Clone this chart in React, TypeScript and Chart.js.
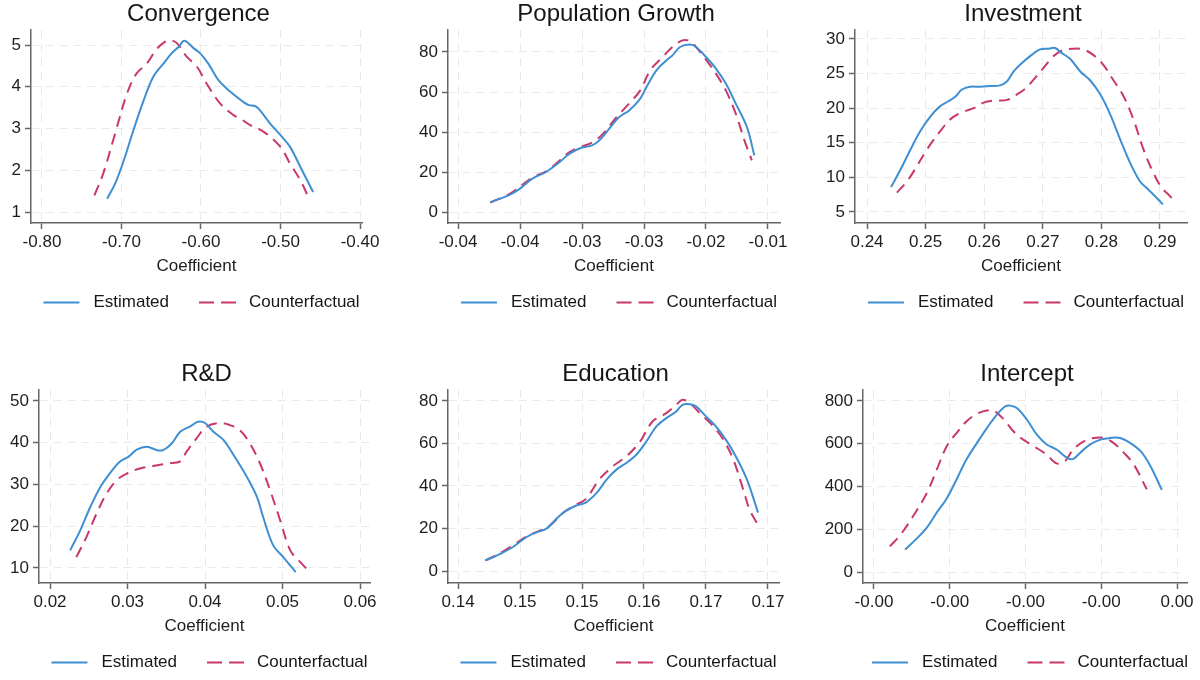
import React, { useEffect, useRef } from "react";
import { Chart, registerables } from "chart.js";

Chart.register(...registerables);

const FONT = "'Liberation Sans', Arial, Helvetica, sans-serif";
const EST_COLOR = "#3f8fd2";
const CF_COLOR = "#c8386c";
const SERIES_LABELS = ["Estimated", "Counterfactual"];
const X_TITLE = "Coefficient";

// ---------- Convergence ----------
const convEstX = [-0.718, -0.708, -0.697, -0.685, -0.672, -0.66, -0.647, -0.637, -0.628, -0.622, -0.618, -0.609, -0.601, -0.591, -0.578, -0.563, -0.547, -0.54, -0.532, -0.526, -0.513, -0.5, -0.488, -0.475, -0.459];
const convEstY = [1.32, 1.68, 2.24, 2.96, 3.68, 4.24, 4.56, 4.8, 4.96, 5.1, 5.08, 4.92, 4.8, 4.56, 4.16, 3.88, 3.64, 3.56, 3.54, 3.44, 3.12, 2.84, 2.56, 2.08, 1.48];
const convCfX = [-0.734, -0.723, -0.708, -0.693, -0.681, -0.668, -0.656, -0.645, -0.639, -0.63, -0.618, -0.605, -0.593, -0.576, -0.559, -0.551, -0.538, -0.521, -0.5, -0.488, -0.475, -0.465];
const convCfY = [1.4, 1.92, 2.88, 3.84, 4.32, 4.56, 4.9, 5.08, 5.12, 5.04, 4.72, 4.48, 4.08, 3.6, 3.32, 3.24, 3.08, 2.92, 2.56, 2.16, 1.76, 1.36];
const convXTicks = [-0.8, -0.7, -0.6, -0.5, -0.4];
const convXLabels = ["-0.80", "-0.70", "-0.60", "-0.50", "-0.40"];
const convYTicks = [1, 2, 3, 4, 5];

// ---------- Population Growth ----------
const popEstX = [-0.0374, -0.0366, -0.0358, -0.035, -0.034, -0.0329, -0.0318, -0.031, -0.0301, -0.0292, -0.0286, -0.0278, -0.027, -0.0262, -0.0253, -0.0248, -0.024, -0.0232, -0.0227, -0.0221, -0.0213, -0.0208, -0.02, -0.0192, -0.0184, -0.0176, -0.0167, -0.0161];
const popEstY = [5, 6.7, 8.7, 11.7, 16.7, 20, 25, 29.2, 32, 33.3, 35.8, 41.7, 47.5, 50.8, 56.7, 62.5, 70.8, 75.8, 78.3, 82.5, 83.7, 82.5, 77.5, 71.7, 64.2, 54.2, 42.5, 28.3];
const popCfX = [-0.0374, -0.0358, -0.034, -0.0329, -0.0318, -0.031, -0.0301, -0.0291, -0.0283, -0.0272, -0.0262, -0.0253, -0.0245, -0.0235, -0.0227, -0.0219, -0.0213, -0.0208, -0.02, -0.0192, -0.0184, -0.0176, -0.0169, -0.0163];
const popCfY = [4.7, 9.2, 17.2, 20.3, 25.8, 30, 32.5, 35, 39.2, 47.5, 54.2, 60.8, 70.8, 77.5, 82.5, 85.8, 85.5, 82.5, 76.2, 69.2, 60.8, 49.2, 35.8, 25.8];
const popXTicks = [-0.04, -0.035, -0.03, -0.025, -0.02, -0.015];
const popXLabels = ["-0.04", "-0.04", "-0.03", "-0.03", "-0.02", "-0.01"];
const popYTicks = [0, 20, 40, 60, 80];

// ---------- Investment ----------
const invEstX = [0.2441, 0.2457, 0.2474, 0.2491, 0.2508, 0.2525, 0.2539, 0.2551, 0.2562, 0.2576, 0.2593, 0.261, 0.2627, 0.2639, 0.265, 0.2664, 0.2681, 0.2695, 0.271, 0.2721, 0.2732, 0.2747, 0.2764, 0.2781, 0.2798, 0.2815, 0.2832, 0.2849, 0.2866, 0.2877, 0.2889, 0.2905];
const invEstY = [8.6, 11.1, 14.0, 16.7, 18.8, 20.3, 21.0, 21.7, 22.7, 23.1, 23.1, 23.2, 23.3, 23.9, 25.3, 26.5, 27.7, 28.5, 28.6, 28.7, 28.0, 27.1, 25.3, 24.0, 22.0, 19.1, 15.5, 12.1, 9.4, 8.5, 7.5, 6.1];
const invCfX = [0.2451, 0.2468, 0.2485, 0.2502, 0.2525, 0.2545, 0.2565, 0.2582, 0.2599, 0.2616, 0.2639, 0.2656, 0.267, 0.2684, 0.2701, 0.2718, 0.2735, 0.2752, 0.2769, 0.2786, 0.2803, 0.282, 0.2838, 0.2855, 0.2872, 0.2889, 0.2903, 0.2917, 0.2928];
const invCfY = [7.8, 9.4, 11.6, 14.0, 16.7, 18.6, 19.5, 20.0, 20.8, 21.1, 21.2, 22.0, 22.8, 24.1, 25.8, 27.5, 28.4, 28.6, 28.5, 27.7, 26.3, 24.1, 21.7, 18.3, 14.0, 10.6, 8.5, 7.3, 6.3];
const invXTicks = [0.24, 0.25, 0.26, 0.27, 0.28, 0.29];
const invXLabels = ["0.24", "0.25", "0.26", "0.27", "0.28", "0.29"];
const invYTicks = [5, 10, 15, 20, 25, 30];

// ---------- R&D ----------
const rdEstX = [0.0226, 0.0239, 0.0252, 0.0265, 0.0277, 0.029, 0.0301, 0.0312, 0.0325, 0.0338, 0.0346, 0.0357, 0.0368, 0.0381, 0.0391, 0.04, 0.0411, 0.0424, 0.0437, 0.0454, 0.0467, 0.0475, 0.0488, 0.0501, 0.0517];
const rdEstY = [14.2, 19.0, 24.6, 29.4, 32.6, 35.4, 36.6, 38.3, 39.0, 38.2, 38.2, 39.8, 42.6, 43.9, 45.0, 44.7, 42.6, 40.6, 37.0, 31.8, 27.0, 22.2, 15.4, 12.6, 9.0];
const rdCfX = [0.0234, 0.0247, 0.026, 0.0273, 0.0286, 0.0299, 0.0316, 0.0333, 0.0351, 0.0368, 0.0376, 0.0389, 0.0402, 0.0419, 0.0432, 0.0445, 0.0458, 0.0471, 0.0484, 0.0497, 0.051, 0.0523, 0.0533];
const rdCfY = [12.6, 17.4, 23.0, 27.8, 31.0, 32.6, 33.8, 34.4, 35.0, 35.5, 37.8, 41.0, 43.8, 44.7, 44.2, 43.0, 39.8, 35.0, 28.6, 21.4, 14.2, 11.4, 9.4];
const rdXTicks = [0.02, 0.03, 0.04, 0.05, 0.06];
const rdXLabels = ["0.02", "0.03", "0.04", "0.05", "0.06"];
const rdYTicks = [10, 20, 30, 40, 50];

// ---------- Education ----------
const eduEstX = [0.1472, 0.1484, 0.1494, 0.1505, 0.1513, 0.1521, 0.1529, 0.1537, 0.1545, 0.1553, 0.1562, 0.157, 0.1578, 0.1586, 0.1594, 0.1602, 0.161, 0.1618, 0.1626, 0.1631, 0.1637, 0.1642, 0.165, 0.1658, 0.1666, 0.1674, 0.1683, 0.1692];
const eduEstY = [5.0, 8.1, 11.2, 15.9, 18.2, 19.8, 24.4, 28.3, 30.7, 32.2, 36.9, 43.1, 47.8, 50.9, 54.8, 61.0, 68.0, 71.9, 75.0, 78.1, 78.4, 77.4, 72.7, 68.0, 61.8, 54.0, 43.1, 27.5];
const eduCfX = [0.1472, 0.1484, 0.1494, 0.1505, 0.1516, 0.1524, 0.1535, 0.1545, 0.1553, 0.1564, 0.1575, 0.1586, 0.1597, 0.1607, 0.1618, 0.1626, 0.1631, 0.1637, 0.1645, 0.1656, 0.1664, 0.1672, 0.168, 0.1685, 0.1691];
const eduCfY = [5.0, 8.4, 12.0, 16.2, 19.0, 21.3, 27.5, 31.1, 33.8, 43.1, 49.3, 54.0, 61.0, 70.4, 74.2, 78.1, 80.5, 78.9, 74.2, 68.0, 61.8, 52.5, 38.4, 29.1, 22.6];
const eduXTicks = [0.145, 0.15, 0.155, 0.16, 0.165, 0.17];
const eduXLabels = ["0.14", "0.15", "0.15", "0.16", "0.17", "0.17"];
const eduYTicks = [0, 20, 40, 60, 80];

// ---------- Intercept ----------
const intEstX = [-0.00359, -0.00344, -0.0033, -0.00317, -0.00304, -0.00291, -0.00278, -0.00264, -0.00251, -0.00238, -0.00227, -0.0022, -0.00211, -0.00198, -0.00185, -0.00172, -0.00159, -0.00145, -0.00137, -0.00128, -0.00115, -0.00101, -0.00088, -0.00075, -0.00062, -0.00048, -0.00035, -0.0002];
const intEstY = [105, 155, 209, 279, 344, 433, 526, 604, 673, 735, 774, 778, 766, 712, 642, 596, 573, 534, 529, 557, 596, 619, 627, 627, 604, 565, 495, 384];
const intCfX = [-0.00379, -0.00366, -0.00348, -0.0033, -0.00317, -0.00304, -0.00291, -0.00278, -0.00264, -0.00251, -0.00242, -0.00229, -0.00216, -0.00203, -0.00189, -0.00172, -0.00159, -0.00148, -0.00137, -0.00123, -0.0011, -0.00097, -0.00084, -0.0007, -0.00057, -0.0004];
const intCfY = [121, 170, 263, 371, 480, 588, 650, 704, 740, 755, 755, 715, 658, 619, 588, 549, 508, 518, 573, 611, 627, 627, 604, 557, 503, 387];
const intXTicks = [-0.004, -0.003, -0.002, -0.001, 0];
const intXLabels = ["-0.00", "-0.00", "-0.00", "-0.00", "0.00"];
const intYTicks = [0, 200, 400, 600, 800];

type Panel = {
  title: string;
  estX: number[]; estY: number[]; cfX: number[]; cfY: number[];
  xTicks: number[]; xLabels: string[]; yTicks: number[];
  xMin: number; xMax: number; yMin: number; yMax: number;
  left: number; top: number; yAxisWidth: number; padRight: number;
};

const PANELS: Panel[] = [
  { title: "Convergence", estX: convEstX, estY: convEstY, cfX: convCfX, cfY: convCfY, xTicks: convXTicks, xLabels: convXLabels, yTicks: convYTicks,
    xMin: -0.8138, xMax: -0.3975, yMin: 0.737, yMax: 5.36, left: 0, top: 0, yAxisWidth: 31, padRight: 38 },
  { title: "Population Growth", estX: popEstX, estY: popEstY, cfX: popCfX, cfY: popCfY, xTicks: popXTicks, xLabels: popXLabels, yTicks: popYTicks,
    xMin: -0.04081, xMax: -0.01403, yMin: -5.5, yMax: 91, left: 400, top: 0, yAxisWidth: 48, padRight: 20 },
  { title: "Investment", estX: invEstX, estY: invEstY, cfX: invCfX, cfY: invCfY, xTicks: invXTicks, xLabels: invXLabels, yTicks: invYTicks,
    xMin: 0.23795, xMax: 0.29461, yMin: 3.41, yMax: 31.3, left: 800, top: 0, yAxisWidth: 55, padRight: 13 },
  { title: "R&D", estX: rdEstX, estY: rdEstY, cfX: rdCfX, cfY: rdCfY, xTicks: rdXTicks, xLabels: rdXLabels, yTicks: rdYTicks,
    xMin: 0.01858, xMax: 0.06129, yMin: 6.4, yMax: 52.6, left: 0, top: 360, yAxisWidth: 39, padRight: 30 },
  { title: "Education", estX: eduEstX, estY: eduEstY, cfX: eduCfX, cfY: eduCfY, xTicks: eduXTicks, xLabels: eduXLabels, yTicks: eduYTicks,
    xMin: 0.14419, xMax: 0.17089, yMin: -5.6, yMax: 85.1, left: 400, top: 360, yAxisWidth: 48, padRight: 21 },
  { title: "Intercept", estX: intEstX, estY: intEstY, cfX: intCfX, cfY: intCfY, xTicks: intXTicks, xLabels: intXLabels, yTicks: intYTicks,
    xMin: -0.004145, xMax: 0.000132, yMin: -51, yMax: 851, left: 800, top: 360, yAxisWidth: 63, padRight: 13 },
];

const PANEL_W = 400;
const PANEL_H = 320;

const decorPlugin = {
  id: "panelDecor",
  afterDraw(chart: any, _args: any, opts: any) {
    const { ctx, chartArea } = chart;
    const cx = (chartArea.left + chartArea.right) / 2;
    ctx.save();
    ctx.fillStyle = "#161616";
    ctx.textAlign = "center";
    ctx.textBaseline = "middle";
    ctx.font = `24px ${FONT}`;
    ctx.fillText(opts.title, cx + 2, 14);

    ctx.font = `17px ${FONT}`;
    const ds = chart.data.datasets;
    const t1 = ds[0].label;
    const t2 = ds[1].label;
    const w1 = ctx.measureText(t1).width;
    const w2 = ctx.measureText(t2).width;
    const sample = 36;
    const total = sample + 14 + w1 + 30 + sample + 14 + w2;
    let x = cx + 5 - total / 2;
    const y = 302.5;
    ctx.lineWidth = 2;
    ctx.strokeStyle = ds[0].borderColor;
    ctx.setLineDash([]);
    ctx.beginPath();
    ctx.moveTo(x, y);
    ctx.lineTo(x + sample, y);
    ctx.stroke();
    x += sample + 14;
    ctx.textAlign = "left";
    ctx.fillText(t1, x, y);
    x += w1 + 30;
    ctx.strokeStyle = ds[1].borderColor;
    ctx.setLineDash([15, 7]);
    ctx.beginPath();
    ctx.moveTo(x, y);
    ctx.lineTo(x + sample + 1, y);
    ctx.stroke();
    ctx.setLineDash([]);
    x += sample + 14;
    ctx.fillText(t2, x, y);
    ctx.restore();
  },
};

function PanelChart({ p }: { p: Panel }) {
  const ref = useRef<HTMLCanvasElement | null>(null);
  useEffect(() => {
    if (!ref.current) return;
    const gridCommon = {
      color: "#e9e9e9",
      lineWidth: 1,
      drawTicks: true,
      tickLength: 6,
      tickColor: "#666",
      tickWidth: 1.5,
    };
    const borderCommon = { display: true, color: "#666", width: 1.5, dash: [8, 6] };
    const chart = new Chart(ref.current, {
      type: "line",
      data: {
        datasets: [
          {
            label: SERIES_LABELS[0],
            data: p.estX.map((x, i) => ({ x, y: p.estY[i] })),
            borderColor: EST_COLOR,
            borderWidth: 2,
            pointRadius: 0,
            tension: 0.35,
            fill: false,
          },
          {
            label: SERIES_LABELS[1],
            data: p.cfX.map((x, i) => ({ x, y: p.cfY[i] })),
            borderColor: CF_COLOR,
            borderWidth: 2,
            borderDash: [11, 7],
            pointRadius: 0,
            tension: 0.35,
            fill: false,
          },
        ],
      },
      options: {
        animation: false,
        responsive: false,
        layout: { padding: { left: 0, right: p.padRight, top: 30, bottom: 43 } },
        plugins: {
          legend: { display: false },
          title: { display: false },
          tooltip: { enabled: false },
          panelDecor: { title: p.title },
        } as any,
        scales: {
          x: {
            type: "linear",
            min: p.xMin,
            max: p.xMax,
            afterBuildTicks: (scale: any) => {
              scale.ticks = p.xTicks.map((v) => ({ value: v }));
            },
            afterFit: (scale: any) => {
              scale.height = 54;
            },
            ticks: {
              autoSkip: false,
              maxRotation: 0,
              padding: 3,
              color: "#1e1e1e",
              font: { family: FONT, size: 17 },
              callback: (_v: any, i: number) => p.xLabels[i],
            },
            title: {
              display: true,
              text: X_TITLE,
              color: "#1e1e1e",
              font: { family: FONT, size: 17 },
              padding: { top: 0, bottom: 0 },
            },
            grid: gridCommon,
            border: borderCommon,
          },
          y: {
            type: "linear",
            min: p.yMin,
            max: p.yMax,
            afterBuildTicks: (scale: any) => {
              scale.ticks = p.yTicks.map((v) => ({ value: v }));
            },
            afterFit: (scale: any) => {
              scale.width = p.yAxisWidth;
            },
            ticks: {
              autoSkip: false,
              padding: 4,
              color: "#1e1e1e",
              font: { family: FONT, size: 17 },
              callback: (v: any) => String(v),
            },
            grid: gridCommon,
            border: borderCommon,
          },
        },
      },
      plugins: [decorPlugin],
    } as any);
    return () => chart.destroy();
  }, [p]);
  return (
    <canvas
      ref={ref}
      width={PANEL_W}
      height={PANEL_H}
      style={{ position: "absolute", left: p.left, top: p.top, width: PANEL_W, height: PANEL_H }}
    />
  );
}

export default function App() {
  return (
    <div style={{ position: "absolute", left: 0, top: 0, width: 1200, height: 680, background: "#fff", overflow: "hidden" }}>
      {PANELS.map((p) => (
        <PanelChart key={p.title} p={p} />
      ))}
    </div>
  );
}
